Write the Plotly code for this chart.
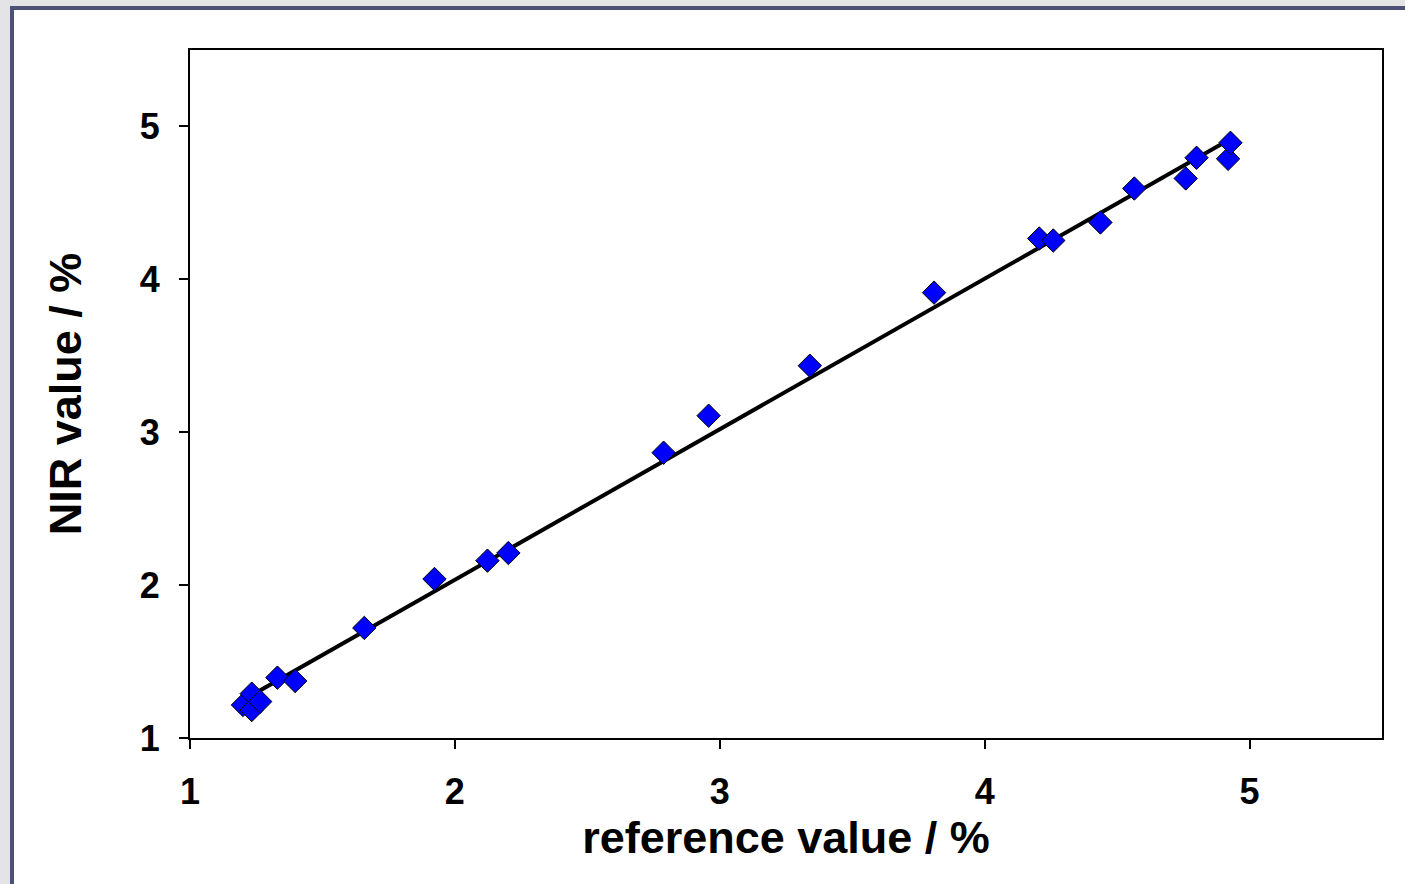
import numpy as np
import plotly.graph_objects as go

reference_value = [1.20, 1.233, 1.233, 1.265, 1.33, 1.397, 1.658, 1.923, 2.123, 2.202,
                   2.788, 2.958, 3.34, 3.809, 4.206, 4.259, 4.437, 4.565, 4.759, 4.80,
                   4.919, 4.928]
nir_value = [1.216, 1.29, 1.183, 1.238, 1.395, 1.373, 1.72, 2.04, 2.16, 2.21,
             2.866, 3.108, 3.435, 3.913, 4.267, 4.254, 4.372, 4.594, 4.66, 4.795,
             4.788, 4.893]
tick_values = [1, 2, 3, 4, 5]

slope, intercept = np.polyfit(reference_value, nir_value, 1)
fx = np.array([min(reference_value) - 0.03, max(reference_value)])
fy = slope * fx + intercept

fig = go.Figure()
fig.add_trace(go.Scatter(x=fx, y=fy, mode="lines",
                         line=dict(color="black", width=4), showlegend=False))
fig.add_trace(go.Scatter(x=reference_value, y=nir_value, mode="markers",
                         marker=dict(symbol="diamond", size=18, color="#0000FF",
                                     line=dict(color="black", width=1)),
                         showlegend=False))

W, H = 1405, 884
L, R, T, B = 190, 23, 50, 146
pw, ph = W - L - R, H - T - B

def px(x):
    return (x - L) / pw

def py(y):
    return (H - B - y) / ph

shapes = [
    dict(type="rect", xref="paper", yref="paper", x0=px(-5), x1=px(10), y0=py(H + 5), y1=py(-5),
         fillcolor="#e4e4e6", line=dict(width=0), layer="above"),
    dict(type="rect", xref="paper", yref="paper", x0=px(-5), x1=px(W + 5), y0=py(6), y1=py(-5),
         fillcolor="#e4e4e6", line=dict(width=0), layer="above"),
    dict(type="path", xref="paper", yref="paper",
         path=f"M {px(12)} {py(H + 5)} L {px(12)} {py(8)} L {px(W + 5)} {py(8)}",
         line=dict(color="#4b5275", width=4), layer="above"),
]

axis_common = dict(range=[1, 5.5], tickvals=tick_values, showgrid=False, zeroline=False,
                   showline=True, linecolor="black", linewidth=2, mirror=True,
                   ticks="outside", ticklen=9, tickwidth=2, tickcolor="black",
                   tickfont=dict(family="Liberation Sans, Arial", size=36, color="black",
                                 weight="bold"))

fig.update_layout(
    width=W, height=H,
    margin=dict(l=L, r=R, t=T, b=B),
    paper_bgcolor="white", plot_bgcolor="white",
    shapes=shapes,
    xaxis=dict(**axis_common, ticklabelstandoff=12,
               title=dict(text="<b>reference value / %</b>", standoff=10,
                          font=dict(family="Liberation Sans, Arial", size=45, color="black"))),
    yaxis=dict(**axis_common, ticklabelstandoff=12,
               title=dict(text="<b>NIR value / %</b>", standoff=44,
                          font=dict(family="Liberation Sans, Arial", size=45, color="black"))),
)

fig.write_html("out.html", config={"displayModeBar": False},
               post_script="document.body.style.margin='0';document.body.style.padding='0';")
